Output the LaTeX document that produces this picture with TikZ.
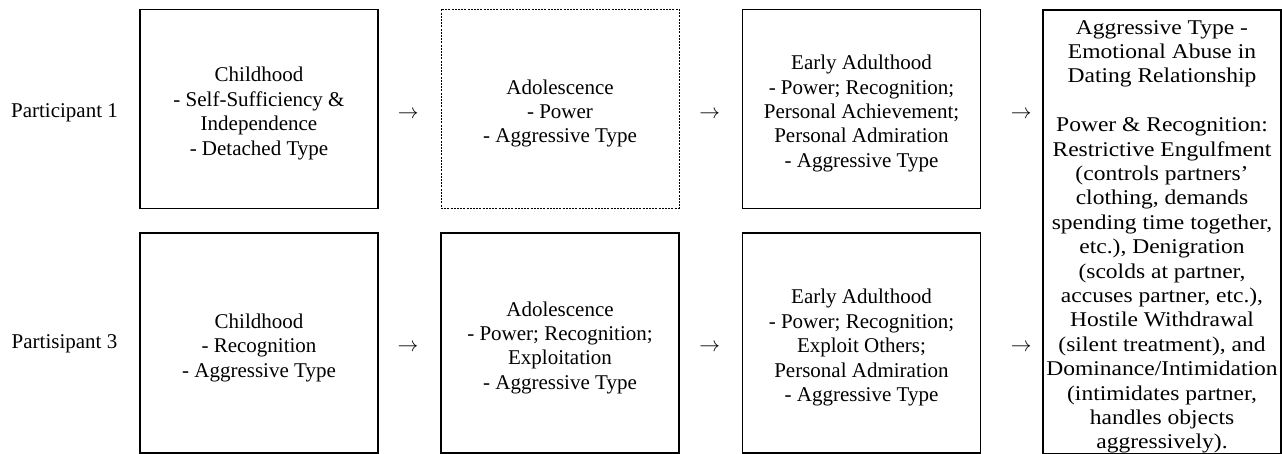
\documentclass[tikz,border=0pt]{standalone}
\usepackage{fontspec}
\setmainfont{Liberation Serif}
\newfontfamily\outcomefont[FakeStretch=1.12]{Liberation Serif}
\usepackage{tikz}
\usepackage{xcolor}
\usetikzlibrary{positioning,calc}
\definecolor{ink}{HTML}{000000}
% taller first line, pushes box text down a little
\newcommand{\stagelift}{\rule{0pt}{24pt}}

\tikzset{
  stagebox/.style={draw=ink,line width=1.1pt,minimum width=238pt,
                   align=center,inner sep=0pt},
  plainbox/.style={stagebox,line width=0.6pt,dash pattern=on 2pt off 1.2pt},
  rowlabel/.style={text=ink,inner sep=0pt},
  stepmark/.style={text=ink,inner sep=0pt}
}

\begin{document}
\begin{tikzpicture}[x=1pt,y=1pt,font=\fontsize{21}{24.4}\selectfont]
  \useasboundingbox (0,0) rectangle (1282,-454);

  % participant 1
  \node[rowlabel] (lab1) at (64.5,-112.5) {Participant 1};
  \node[stagebox,minimum height=199pt] (child1) at (259,-108.7)
    {\stagelift Childhood\\- Self-Sufficiency \&\\Independence\\- Detached Type};
  \node[plainbox,minimum height=199pt] (adol1) at (560,-108.7)
    {\stagelift Adolescence\\- Power\\- Aggressive Type};
  \node[stagebox,minimum height=199pt] (adult1) at (861.5,-108.7)
    {\stagelift Early Adulthood\\- Power; Recognition;\\Personal Achievement;\\Personal Admiration\\- Aggressive Type};

  % participant 3
  \node[rowlabel] (lab3) at (64.5,-344) {Partisipant 3};
  \node[stagebox,minimum height=220pt] (child3) at (259,-343)
    {\stagelift Childhood\\- Recognition\\- Aggressive Type};
  \node[stagebox,minimum height=220pt] (adol3) at (560,-343)
    {\stagelift Adolescence\\- Power; Recognition;\\Exploitation\\- Aggressive Type};
  \node[stagebox,minimum height=220pt] (adult3) at (861.5,-343)
    {\stagelift Early Adulthood\\- Power; Recognition;\\Exploit Others;\\Personal Admiration\\- Aggressive Type};

  % outcome
  \node[stagebox,minimum height=442.5pt,anchor=north,
        font=\outcomefont\fontsize{21}{24.4}\selectfont] (abuse) at (1162,-9.5)
    {\stagelift Aggressive Type -\\Emotional Abuse in\\Dating Relationship\\[24.4pt]
     Power \& Recognition:\\Restrictive Engulfment\\(controls partners’\\
     clothing, demands\\spending time together,\\etc.), Denigration\\
     (scolds at partner,\\accuses partner, etc.),\\Hostile Withdrawal\\
     (silent treatment), and\\Dominance/Intimidation\\(intimidates partner,\\
     handles objects\\aggressively).};

  % arrows between stages
  \node[stepmark] (s11) at ($(child1.east)!0.5!(adol1.west)+(-1.5,-6)$) {$\rightarrow$};
  \node[stepmark] (s12) at ($(adol1.east)!0.5!(adult1.west)+(-1,-6)$) {$\rightarrow$};
  \node[stepmark] (s13) at ($(adult1.east)!0.5!(abuse.west|-adult1.east)+(9.5,-6)$) {$\rightarrow$};
  \node[stepmark] (s31) at ($(child3.east)!0.5!(adol3.west)+(-1.5,-5)$) {$\rightarrow$};
  \node[stepmark] (s32) at ($(adol3.east)!0.5!(adult3.west)+(-1,-5)$) {$\rightarrow$};
  \node[stepmark] (s33) at ($(adult3.east)!0.5!(abuse.west|-adult3.east)+(9.5,-5)$) {$\rightarrow$};
\end{tikzpicture}
\end{document}
